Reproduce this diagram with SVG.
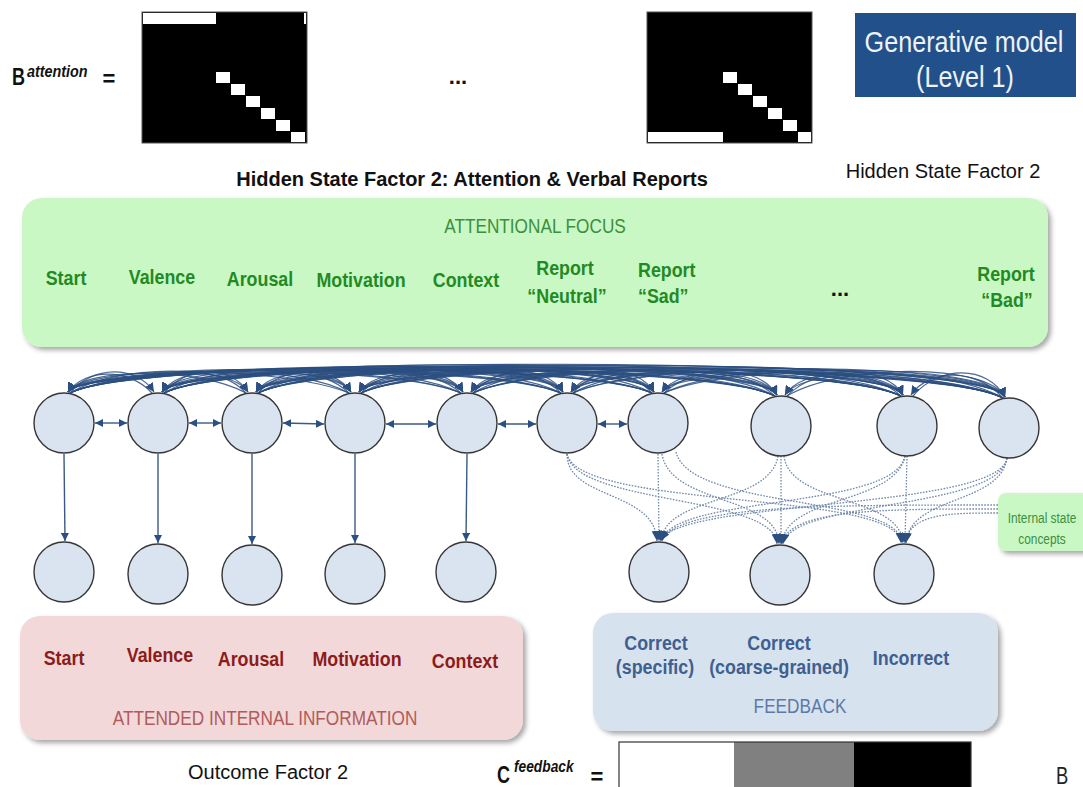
<svg xmlns="http://www.w3.org/2000/svg" width="1083" height="787" viewBox="0 0 1083 787">
  <defs>
    <style>
      text { font-family: "Liberation Sans", Arial, sans-serif; }
      .lbl { font-weight: bold; font-size: 21px; text-anchor: middle; }
      .cap { font-size: 21px; text-anchor: middle; }
      .green { fill: #238a23; }
      .greenc { fill: #3d8f3d; }
      .red { fill: #8c1c1c; }
      .redc { fill: #b05c5c; }
      .blue { fill: #3f5f8f; }
      .bluec { fill: #5b7aa6; }
      .node { fill: #dae3f0; stroke: #363636; stroke-width: 1.4; }
      .arc { fill: none; stroke: #2b4f80; stroke-width: 1.2; stroke-opacity: 0.85; marker-end: url(#ahArc); }
      .solid { fill: none; stroke: #3a5a85; stroke-width: 1.4; }
      .dot { fill: none; stroke: #7088aa; stroke-width: 1.3; stroke-dasharray: 1.6 1.4; marker-end: url(#ahDot); }
      .mat { fill: #000; stroke: #555; stroke-width: 1; }
      .cell { fill: #fff; }
    </style>
    <filter id="sh" x="-5%" y="-10%" width="110%" height="125%">
      <feDropShadow dx="3" dy="3" stdDeviation="2.5" flood-color="#000" flood-opacity="0.35"/>
    </filter>
    <marker id="ah" viewBox="0 0 10 10" refX="10" refY="5" markerWidth="8" markerHeight="8" markerUnits="userSpaceOnUse" orient="auto-start-reverse">
      <path d="M0,0 L10,5 L0,10 z" fill="#2b4f80"/>
    </marker>
    <marker id="ahArc" viewBox="0 0 10 10" refX="10" refY="5" markerWidth="9" markerHeight="9" markerUnits="userSpaceOnUse" orient="auto">
      <path d="M0,0 L10,5 L0,10 z" fill="#2b4f80"/>
    </marker>
    <marker id="ahDot" viewBox="0 0 10 10" refX="10" refY="5" markerWidth="10" markerHeight="10" markerUnits="userSpaceOnUse" orient="auto">
      <path d="M0,0 L10,5 L0,10 z" fill="#2b4f80"/>
    </marker>
  </defs>

  <rect width="1083" height="787" fill="#fff"/>

  <!-- transition matrix B (attention) -->
  <g id="b-attention">
    <text transform="translate(12 85) scale(0.75 1)" font-size="24" font-weight="bold" fill="#111">B</text>
    <text transform="translate(27 77) scale(0.87 1)" font-size="16.5" font-weight="bold" font-style="italic" fill="#111">attention</text>
    <text x="109" y="86" font-size="22" font-weight="bold" text-anchor="middle" fill="#111">=</text>
    <rect class="mat" x="142" y="12" width="165" height="131"/>
    <rect class="cell" x="143" y="13" width="73" height="11"/>
    <rect class="cell" x="304" y="13" width="2" height="11"/>
    <rect class="cell" x="216" y="72" width="14" height="11"/>
    <rect class="cell" x="231" y="84" width="14" height="11"/>
    <rect class="cell" x="246" y="96" width="14" height="11"/>
    <rect class="cell" x="261" y="108" width="14" height="11"/>
    <rect class="cell" x="276" y="120" width="14" height="11"/>
    <rect class="cell" x="291" y="132" width="14" height="10"/>
    <text x="458" y="84" font-size="22" font-weight="bold" text-anchor="middle" fill="#111">...</text>
    <rect class="mat" x="647" y="12" width="165" height="131"/>
    <rect class="cell" x="723" y="72" width="14" height="11"/>
    <rect class="cell" x="738" y="84" width="14" height="11"/>
    <rect class="cell" x="753" y="96" width="14" height="11"/>
    <rect class="cell" x="768" y="108" width="14" height="11"/>
    <rect class="cell" x="783" y="120" width="14" height="11"/>
    <rect class="cell" x="798" y="132" width="13" height="10"/>
    <rect class="cell" x="648" y="132" width="75" height="10"/>
  </g>

  <!-- level badge -->
  <g id="level-badge">
    <rect x="855" y="13" width="221" height="84" fill="#21508b"/>
    <text transform="translate(964 52) scale(0.84 1)" font-size="30" text-anchor="middle" fill="#eef2f7">Generative model</text>
    <text transform="translate(965 87) scale(0.84 1)" font-size="30" text-anchor="middle" fill="#eef2f7">(Level 1)</text>
  </g>

  <g id="titles">
    <text x="472" y="186" font-size="20" font-weight="bold" text-anchor="middle" fill="#111">Hidden State Factor 2: Attention &amp; Verbal Reports</text>
    <text x="943" y="178" font-size="20" text-anchor="middle" fill="#111">Hidden State Factor 2</text>
    <text x="268" y="779" font-size="20" text-anchor="middle" fill="#111">Outcome Factor 2</text>
  </g>

  <!-- attentional focus panel -->
  <g id="attentional-focus">
    <rect x="22" y="198" width="1026" height="149" rx="20" fill="#c9f8c5" filter="url(#sh)"/>
    <text class="cap greenc" transform="translate(535 233) scale(0.82 1)">ATTENTIONAL FOCUS</text>
    <text class="lbl green" transform="translate(66 285) scale(0.85 1)">Start</text>
    <text class="lbl green" transform="translate(162 284) scale(0.85 1)">Valence</text>
    <text class="lbl green" transform="translate(260 286) scale(0.85 1)">Arousal</text>
    <text class="lbl green" transform="translate(361 287) scale(0.85 1)">Motivation</text>
    <text class="lbl green" transform="translate(466 287) scale(0.85 1)">Context</text>
    <text class="lbl green" transform="translate(565 275) scale(0.85 1)">Report</text>
    <text class="lbl green" transform="translate(567 303) scale(0.85 1)">“Neutral”</text>
    <text class="lbl green" transform="translate(638 277) scale(0.85 1)" style="text-anchor:start">Report</text>
    <text class="lbl green" transform="translate(638 303) scale(0.85 1)" style="text-anchor:start">“Sad”</text>
    <text x="840" y="296" font-size="22" font-weight="bold" text-anchor="middle" fill="#111">...</text>
    <text class="lbl green" transform="translate(1006 281) scale(0.85 1)">Report</text>
    <text class="lbl green" transform="translate(1007 307) scale(0.85 1)">“Bad”</text>
  </g>

  <!-- attended internal information panel -->
  <g id="attended-info">
    <rect x="20" y="616" width="503" height="124" rx="20" fill="#f2d8d8" filter="url(#sh)"/>
    <text class="lbl red" transform="translate(64 665) scale(0.85 1)">Start</text>
    <text class="lbl red" transform="translate(160 662) scale(0.85 1)">Valence</text>
    <text class="lbl red" transform="translate(251 666) scale(0.85 1)">Arousal</text>
    <text class="lbl red" transform="translate(357 666) scale(0.85 1)">Motivation</text>
    <text class="lbl red" transform="translate(465 668) scale(0.85 1)">Context</text>
    <text class="cap redc" transform="translate(265 725) scale(0.82 1)">ATTENDED INTERNAL INFORMATION</text>
  </g>

  <!-- feedback panel -->
  <g id="feedback">
    <rect x="593" y="613" width="405" height="118" rx="20" fill="#d7e2ef" filter="url(#sh)"/>
    <text class="lbl blue" transform="translate(656 650) scale(0.85 1)">Correct</text>
    <text class="lbl blue" transform="translate(655 674) scale(0.85 1)">(specific)</text>
    <text class="lbl blue" transform="translate(779 650) scale(0.85 1)">Correct</text>
    <text class="lbl blue" transform="translate(779 674) scale(0.85 1)">(coarse-grained)</text>
    <text class="lbl blue" transform="translate(911 665) scale(0.85 1)">Incorrect</text>
    <text class="cap bluec" transform="translate(800 713) scale(0.82 1)">FEEDBACK</text>
  </g>

  <!-- preference vector C (feedback) -->
  <g id="c-feedback">
    <text transform="translate(497 783) scale(0.75 1)" font-size="24" font-weight="bold" fill="#111">C</text>
    <text transform="translate(514 772) scale(0.86 1)" font-size="16" font-weight="bold" font-style="italic" fill="#111">feedback</text>
    <text x="597" y="784" font-size="22" font-weight="bold" text-anchor="middle" fill="#111">=</text>
    <rect x="619" y="742" width="115" height="50" fill="#fff"/>
    <rect x="734" y="742" width="120" height="50" fill="#808080"/>
    <rect x="854" y="742" width="117" height="50" fill="#000"/>
    <rect x="619" y="742" width="352" height="50" fill="none" stroke="#333" stroke-width="1.2"/>
    <text transform="translate(1056 784) scale(0.8 1)" font-size="23" fill="#222">B</text>
  </g>

  <!-- connectors -->
  <g id="connectors">
    <!-- transitions among hidden states (arcs above the top row) -->
    <path class="arc" d="M70 393 C93 365 136 365 154 392"/>
    <path class="arc" d="M70 393 C117 364 230 364 248 392"/>
    <path class="arc" d="M70 393 C140 362 333 362 351 392"/>
    <path class="arc" d="M70 393 C140 361 445 361 463 392"/>
    <path class="arc" d="M70 393 C140 360 545 360 563 392"/>
    <path class="arc" d="M70 393 C140 358 636 358 654 392"/>
    <path class="arc" d="M70 393 C140 357 759 357 777 395"/>
    <path class="arc" d="M70 393 C140 355 885 355 903 395"/>
    <path class="arc" d="M70 393 C140 354 987 354 1005 397"/>
    <path class="arc" d="M164 393 C187 365 230 365 248 392"/>
    <path class="arc" d="M164 393 C213 363 333 363 351 392"/>
    <path class="arc" d="M164 393 C234 362 445 362 463 392"/>
    <path class="arc" d="M164 393 C234 361 545 361 563 392"/>
    <path class="arc" d="M164 393 C234 360 636 360 654 392"/>
    <path class="arc" d="M164 393 C234 358 759 358 777 395"/>
    <path class="arc" d="M164 393 C234 356 885 356 903 395"/>
    <path class="arc" d="M164 393 C234 355 987 355 1005 397"/>
    <path class="arc" d="M258 393 C284 365 333 365 351 392"/>
    <path class="arc" d="M258 393 C312 363 445 363 463 392"/>
    <path class="arc" d="M258 393 C328 362 545 362 563 392"/>
    <path class="arc" d="M258 393 C328 361 636 361 654 392"/>
    <path class="arc" d="M258 393 C328 359 759 359 777 395"/>
    <path class="arc" d="M258 393 C328 358 885 358 903 395"/>
    <path class="arc" d="M258 393 C328 356 987 356 1005 397"/>
    <path class="arc" d="M361 393 C389 365 445 365 463 392"/>
    <path class="arc" d="M361 393 C414 363 545 363 563 392"/>
    <path class="arc" d="M361 393 C431 362 636 362 654 392"/>
    <path class="arc" d="M361 393 C431 361 759 361 777 395"/>
    <path class="arc" d="M361 393 C431 359 885 359 903 395"/>
    <path class="arc" d="M361 393 C431 358 987 358 1005 397"/>
    <path class="arc" d="M473 393 C498 365 545 365 563 392"/>
    <path class="arc" d="M473 393 C521 364 636 364 654 392"/>
    <path class="arc" d="M473 393 C543 362 759 362 777 395"/>
    <path class="arc" d="M473 393 C543 360 885 360 903 395"/>
    <path class="arc" d="M473 393 C543 359 987 359 1005 397"/>
    <path class="arc" d="M573 393 C596 365 636 365 654 392"/>
    <path class="arc" d="M573 393 C626 363 759 363 777 395"/>
    <path class="arc" d="M573 393 C643 362 885 362 903 395"/>
    <path class="arc" d="M573 393 C643 360 987 360 1005 397"/>
    <path class="arc" d="M664 393 C695 364 759 364 777 395"/>
    <path class="arc" d="M664 393 C726 363 885 363 903 395"/>
    <path class="arc" d="M664 393 C734 362 987 362 1005 397"/>
    <path class="arc" d="M787 396 C818 364 885 364 903 395"/>
    <path class="arc" d="M787 396 C844 363 987 363 1005 397"/>
    <path class="arc" d="M913 396 C939 365 987 365 1005 397"/>

    <path class="arc" d="M152 393 C129 368 86 368 68 392"/>
    <path class="arc" d="M246 393 C199 367 86 367 68 392"/>
    <path class="arc" d="M349 393 C279 365 86 365 68 392"/>
    <path class="arc" d="M461 393 C391 364 86 364 68 392"/>
    <path class="arc" d="M561 393 C491 363 86 363 68 392"/>
    <path class="arc" d="M652 393 C582 361 86 361 68 392"/>
    <path class="arc" d="M775 396 C705 360 86 360 68 392"/>
    <path class="arc" d="M901 396 C831 358 86 358 68 392"/>
    <path class="arc" d="M1003 398 C933 357 86 357 68 392"/>
    <path class="arc" d="M246 393 C223 368 180 368 162 392"/>
    <path class="arc" d="M349 393 C300 366 180 366 162 392"/>
    <path class="arc" d="M461 393 C391 365 180 365 162 392"/>
    <path class="arc" d="M561 393 C491 364 180 364 162 392"/>
    <path class="arc" d="M652 393 C582 363 180 363 162 392"/>
    <path class="arc" d="M775 396 C705 361 180 361 162 392"/>
    <path class="arc" d="M901 396 C831 359 180 359 162 392"/>
    <path class="arc" d="M1003 398 C933 358 180 358 162 392"/>
    <path class="arc" d="M349 393 C323 368 274 368 256 392"/>
    <path class="arc" d="M461 393 C407 366 274 366 256 392"/>
    <path class="arc" d="M561 393 C491 365 274 365 256 392"/>
    <path class="arc" d="M652 393 C582 364 274 364 256 392"/>
    <path class="arc" d="M775 396 C705 362 274 362 256 392"/>
    <path class="arc" d="M901 396 C831 361 274 361 256 392"/>
    <path class="arc" d="M1003 398 C933 359 274 359 256 392"/>
    <path class="arc" d="M461 393 C433 368 377 368 359 392"/>
    <path class="arc" d="M561 393 C508 366 377 366 359 392"/>
    <path class="arc" d="M652 393 C582 365 377 365 359 392"/>
    <path class="arc" d="M775 396 C705 364 377 364 359 392"/>
    <path class="arc" d="M901 396 C831 362 377 362 359 392"/>
    <path class="arc" d="M1003 398 C933 361 377 361 359 392"/>
    <path class="arc" d="M561 393 C536 368 489 368 471 392"/>
    <path class="arc" d="M652 393 C604 367 489 367 471 392"/>
    <path class="arc" d="M775 396 C705 365 489 365 471 392"/>
    <path class="arc" d="M901 396 C831 363 489 363 471 392"/>
    <path class="arc" d="M1003 398 C933 362 489 362 471 392"/>
    <path class="arc" d="M652 393 C629 368 589 368 571 392"/>
    <path class="arc" d="M775 396 C722 366 589 366 571 392"/>
    <path class="arc" d="M901 396 C831 365 589 365 571 392"/>
    <path class="arc" d="M1003 398 C933 363 589 363 571 392"/>
    <path class="arc" d="M775 396 C744 367 680 367 662 392"/>
    <path class="arc" d="M901 396 C839 366 680 366 662 392"/>
    <path class="arc" d="M1003 398 C933 365 680 365 662 392"/>
    <path class="arc" d="M901 396 C870 367 803 367 785 395"/>
    <path class="arc" d="M1003 398 C946 366 803 366 785 395"/>
    <path class="arc" d="M1003 398 C977 368 929 368 911 395"/>

    <!-- neighbour links in the top row -->
    <line class="solid" x1="95" y1="423" x2="127" y2="423" marker-start="url(#ah)" marker-end="url(#ah)"/>
    <line class="solid" x1="189" y1="423" x2="221" y2="423" marker-start="url(#ah)" marker-end="url(#ah)"/>
    <line class="solid" x1="283" y1="423" x2="324" y2="424" marker-start="url(#ah)" marker-end="url(#ah)"/>
    <line class="solid" x1="386" y1="424" x2="436" y2="424" marker-start="url(#ah)" marker-end="url(#ah)"/>
    <line class="solid" x1="498" y1="424" x2="536" y2="424" marker-start="url(#ah)" marker-end="url(#ah)"/>
    <line class="solid" x1="598" y1="424" x2="627" y2="424" marker-start="url(#ah)" marker-end="url(#ah)"/>

    <!-- state to outcome mappings -->
    <line class="solid" x1="64" y1="454" x2="65" y2="541" marker-end="url(#ah)"/>
    <line class="solid" x1="158" y1="454" x2="158" y2="543" marker-end="url(#ah)"/>
    <line class="solid" x1="252" y1="454" x2="252" y2="544" marker-end="url(#ah)"/>
    <line class="solid" x1="355" y1="454" x2="355" y2="543" marker-end="url(#ah)"/>
    <line class="solid" x1="467" y1="454" x2="466" y2="541" marker-end="url(#ah)"/>

    <!-- reports to feedback -->
    <path class="dot" d="M567 454 C567 500 655 490 657 541"/>
    <path class="dot" d="M567 454 C575 505 775 495 777 544"/>
    <path class="dot" d="M567 454 C580 510 899 490 901 543"/>
    <path class="dot" d="M658 454 L659 541"/>
    <path class="dot" d="M662 454 C670 505 778 495 779 544"/>
    <path class="dot" d="M676 452 C690 510 900 495 902 543"/>
    <path class="dot" d="M778 456 C770 505 665 495 661 541"/>
    <path class="dot" d="M781 456 L781 544"/>
    <path class="dot" d="M784 456 C790 505 900 495 903 543"/>
    <path class="dot" d="M905 456 C895 510 670 495 662 541"/>
    <path class="dot" d="M905 456 C895 505 785 495 782 544"/>
    <path class="dot" d="M907 456 L905 543"/>
    <path class="dot" d="M1007 458 C1000 510 670 500 662 541"/>
    <path class="dot" d="M1007 458 C1000 510 790 500 783 544"/>
    <path class="dot" d="M1007 458 C1000 505 910 495 906 543"/>
    <path class="dot" d="M998 505 C820 505 680 505 660 541"/>
    <path class="dot" d="M998 509 C880 509 790 509 781 544"/>
    <path class="dot" d="M998 513 C950 513 910 513 905 543"/>
  </g>

  <!-- hidden state nodes -->
  <g id="s-start"><circle class="node" cx="64" cy="423" r="30"/></g>
  <g id="s-valence"><circle class="node" cx="158" cy="423" r="30"/></g>
  <g id="s-arousal"><circle class="node" cx="252" cy="423" r="30"/></g>
  <g id="s-motivation"><circle class="node" cx="355" cy="423" r="30"/></g>
  <g id="s-context"><circle class="node" cx="467" cy="423" r="30"/></g>
  <g id="s-report-neutral"><circle class="node" cx="567" cy="423" r="30"/></g>
  <g id="s-report-sad"><circle class="node" cx="658" cy="423" r="30"/></g>
  <g id="s-report-3"><circle class="node" cx="781" cy="426" r="30"/></g>
  <g id="s-report-4"><circle class="node" cx="907" cy="426" r="30"/></g>
  <g id="s-report-bad"><circle class="node" cx="1009" cy="428" r="30"/></g>

  <!-- outcome nodes -->
  <g id="o-start"><circle class="node" cx="64" cy="572" r="30"/></g>
  <g id="o-valence"><circle class="node" cx="158" cy="574" r="30"/></g>
  <g id="o-arousal"><circle class="node" cx="252" cy="575" r="30"/></g>
  <g id="o-motivation"><circle class="node" cx="355" cy="574" r="30"/></g>
  <g id="o-context"><circle class="node" cx="466" cy="572" r="30"/></g>
  <g id="o-correct-specific"><circle class="node" cx="659" cy="572" r="30"/></g>
  <g id="o-correct-coarse"><circle class="node" cx="780" cy="575" r="30"/></g>
  <g id="o-incorrect"><circle class="node" cx="904" cy="574" r="30"/></g>

  <!-- internal state concepts tag -->
  <g id="internal-concepts">
    <rect x="998" y="493" width="95" height="58" rx="8" fill="#c9f8c5" filter="url(#sh)"/>
    <text class="greenc" transform="translate(1042 523) scale(0.82 1)" font-size="14.5" text-anchor="middle">Internal state</text>
    <text class="greenc" transform="translate(1042 544) scale(0.82 1)" font-size="14.5" text-anchor="middle">concepts</text>
  </g>
</svg>
